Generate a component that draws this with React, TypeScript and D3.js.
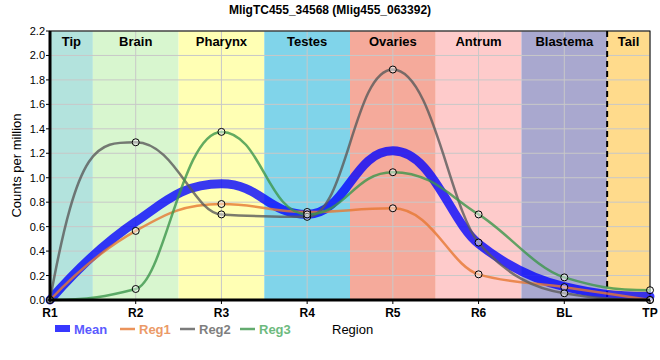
import React from "react";
import * as d3 from "d3";

const categories = ["R1", "R2", "R3", "R4", "R5", "R6", "BL", "TP"];
const meanVals = [0, 0.64, 0.95, 0.7, 1.22, 0.46, 0.11, 0.03];
const reg1Vals = [0, 0.565, 0.785, 0.72, 0.75, 0.21, 0.105, 0.0];
const reg2Vals = [0, 1.29, 0.7, 0.68, 1.885, 0.47, 0.055, 0.0];
const reg3Vals = [0, 0.09, 1.375, 0.7, 1.045, 0.7, 0.185, 0.08];
const yTicks = [0, 0.2, 0.4, 0.6, 0.8, 1.0, 1.2, 1.4, 1.6, 1.8, 2.0, 2.2];

// band [from index, to index] in category units
const regions = [
  { name: "Tip", from: 0, to: 0.5, color: "#b3e3dd" },
  { name: "Brain", from: 0.5, to: 1.5, color: "#d8f6cf" },
  { name: "Pharynx", from: 1.5, to: 2.5, color: "#ffffb4" },
  { name: "Testes", from: 2.5, to: 3.5, color: "#80d4ea" },
  { name: "Ovaries", from: 3.5, to: 4.5, color: "#f5aa9b" },
  { name: "Antrum", from: 4.5, to: 5.5, color: "#fecbcb" },
  { name: "Blastema", from: 5.5, to: 6.5, color: "#a9a8cf" },
  { name: "Tail", from: 6.5, to: 7, color: "#ffdb8c" },
];

const series = [
  { name: "Mean", vals: meanVals, color: "rgba(0,0,255,0.78)", legend: "#5a5aff", width: 9, dots: false },
  { name: "Reg1", vals: reg1Vals, color: "rgba(230,120,50,0.8)", legend: "#eb9a68", width: 2.5, dots: true },
  { name: "Reg2", vals: reg2Vals, color: "rgba(90,90,90,0.8)", legend: "#7f7f7f", width: 2.5, dots: true },
  { name: "Reg3", vals: reg3Vals, color: "rgba(60,150,75,0.8)", legend: "#6dba7e", width: 2.5, dots: true },
];

const W = 660, H = 360;
const m = { l: 50, r: 10, t: 31, b: 60 };

const sign = (v: number) => (v < 0 ? -1 : v > 0 ? 1 : 0);

// monotone tangents; handles pushed further out at flat knots
function smoothPath(pts: [number, number][]) {
  const n = pts.length;
  const sl: number[] = [];
  for (let i = 0; i < n - 1; i++) sl.push((pts[i + 1][1] - pts[i][1]) / (pts[i + 1][0] - pts[i][0]));
  const t: number[] = new Array(n).fill(0);
  for (let i = 1; i < n - 1; i++) {
    const h0 = pts[i][0] - pts[i - 1][0], h1 = pts[i + 1][0] - pts[i][0];
    const s0 = sl[i - 1], s1 = sl[i];
    const p = (s0 * h1 + s1 * h0) / (h0 + h1);
    t[i] = (sign(s0) + sign(s1)) * Math.min(Math.abs(s0), Math.abs(s1), 0.5 * Math.abs(p)) || 0;
  }
  const endSlope = (s: number, inner: number) => (Math.abs(inner) < 1e-6 ? 3 * s : 2 * s - inner);
  t[0] = endSlope(sl[0], t[1]);
  t[n - 1] = endSlope(sl[n - 2], t[n - 2]);
  const kOf = (v: number) => (Math.abs(v) < 1e-6 ? 0.46 : 1 / 3);
  const p = d3.path();
  p.moveTo(pts[0][0], pts[0][1]);
  for (let i = 0; i < n - 1; i++) {
    const [x0, y0] = pts[i], [x1, y1] = pts[i + 1];
    const dx = x1 - x0;
    const k0 = kOf(t[i]), k1 = kOf(t[i + 1]);
    const lo = Math.min(y0, y1), hi = Math.max(y0, y1);
    const c1 = Math.max(lo, Math.min(hi, y0 + t[i] * dx * k0));
    const c2 = Math.max(lo, Math.min(hi, y1 - t[i + 1] * dx * k1));
    p.bezierCurveTo(x0 + dx * k0, c1, x1 - dx * k1, c2, x1, y1);
  }
  return p.toString();
}

export default function App() {
  const x = d3.scaleLinear().domain([0, categories.length - 1]).range([m.l, W - m.r]);
  const y = d3.scaleLinear().domain([0, 2.2]).range([H - m.b, m.t]);

  const legendX = [55, 120, 180, 240];

  return (
    <svg
      width={W}
      height={H}
      style={{ position: "absolute", left: 0, top: 0, fontFamily: "Arial, 'Liberation Sans', sans-serif" }}
    >
      <text x={W / 2} y={14} textAnchor="middle" fontSize={12} fontWeight="bold">
        MligTC455_34568 (Mlig455_063392)
      </text>
      {regions.map((r) => (
        <rect key={r.name} x={x(r.from)} y={m.t} width={x(r.to) - x(r.from)} height={y(0) - m.t} fill={r.color} />
      ))}
      {yTicks.map((t) => (
        <line key={"h" + t} x1={m.l} x2={W - m.r} y1={y(t)} y2={y(t)} stroke="#c8c8c8" strokeWidth={1} />
      ))}
      {categories.map((c, i) => (
        <line key={"v" + c} x1={x(i)} x2={x(i)} y1={m.t} y2={y(0)} stroke="#c8c8c8" strokeWidth={1} />
      ))}
      {regions.map((r) => (
        <text
          key={"t" + r.name}
          x={(x(r.from) + x(r.to)) / 2}
          y={m.t + 15}
          textAnchor="middle"
          fontSize={13}
          fontWeight="bold"
        >
          {r.name}
        </text>
      ))}
      <line x1={x(6.5)} x2={x(6.5)} y1={m.t} y2={y(0)} stroke="#000" strokeWidth={2} strokeDasharray="6,4" />
      <rect x={m.l} y={m.t} width={W - m.r - m.l} height={y(0) - m.t} fill="none" stroke="#000" strokeWidth={1} />
      {series.map((s) => (
        <path
          key={s.name}
          d={smoothPath(s.vals.map((v, i) => [x(i), y(v)] as [number, number]))}
          fill="none"
          stroke={s.color}
          strokeWidth={s.width}
          strokeLinecap="round"
        />
      ))}
      {series
        .filter((s) => s.dots)
        .map((s) =>
          s.vals.map((v, i) => (
            <circle
              key={s.name + i}
              cx={x(i)}
              cy={y(v)}
              r={3.5}
              fill="rgba(255,255,255,0.45)"
              stroke="#000"
              strokeWidth={1}
            />
          ))
        )}
      <line x1={m.l} x2={m.l} y1={m.t} y2={y(0) + 1.5} stroke="#000" strokeWidth={3} />
      <line x1={m.l - 1.5} x2={W - m.r} y1={y(0)} y2={y(0)} stroke="#000" strokeWidth={3} />
      {yTicks.map((t) => (
        <g key={"yt" + t}>
          <line x1={m.l - 4} x2={m.l} y1={y(t)} y2={y(t)} stroke="#000" strokeWidth={1} />
          <text x={m.l - 5} y={y(t) + 4} textAnchor="end" fontSize={11}>
            {t.toFixed(1)}
          </text>
        </g>
      ))}
      {categories.map((c, i) => (
        <g key={"xt" + c}>
          <line x1={x(i)} x2={x(i)} y1={y(0)} y2={y(0) + 4} stroke="#000" strokeWidth={1} />
          <text x={x(i)} y={y(0) + 17} textAnchor="middle" fontSize={12} fontWeight="bold">
            {c}
          </text>
        </g>
      ))}
      <text transform={`translate(21,${(m.t + y(0)) / 2}) rotate(-90)`} textAnchor="middle" fontSize={13}>
        Counts per million
      </text>
      <text x={332} y={334} fontSize={13}>
        Region
      </text>
      {series.map((s, i) => (
        <g key={"lg" + s.name}>
          {s.name === "Mean" ? (
            <rect x={legendX[i]} y={325} width={15} height={7} fill={s.color} />
          ) : (
            <line x1={legendX[i]} x2={legendX[i] + 15} y1={329} y2={329} stroke={s.color} strokeWidth={2.5} />
          )}
          <text x={legendX[i] + 19} y={334} fontSize={13} fontWeight="bold" fill={s.legend}>
            {s.name}
          </text>
        </g>
      ))}
    </svg>
  );
}
